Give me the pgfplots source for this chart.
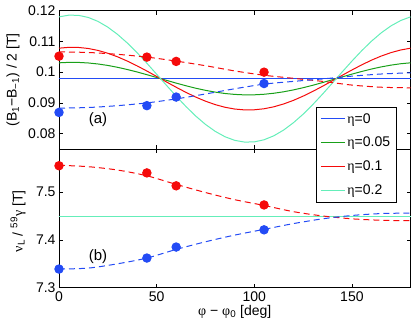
\documentclass[border=0pt]{standalone}
\usepackage{fontspec}
\setmainfont{Liberation Sans}
\newfontfamily\grk{Liberation Serif}
\usepackage{pgfplots}
\pgfplotsset{compat=1.18}
\usepackage{pgfplotstable}

\definecolor{mblue}{RGB}{35,75,245}
\definecolor{mred}{RGB}{245,10,10}
\definecolor{mgreen}{RGB}{25,160,25}
\definecolor{mcyan}{RGB}{100,238,185}

% solid curves, top panel
\pgfplotstableread{
phi e0 e05 e1 e2
0 0.0979 0.10304 0.10780 0.11799
5 0.0979 0.10319 0.10808 0.11855
10 0.0979 0.10317 0.10804 0.11849
15 0.0979 0.10299 0.10771 0.11780
20 0.0979 0.10266 0.10707 0.11651
25 0.0979 0.10219 0.10615 0.11465
30 0.0979 0.10158 0.10499 0.11228
35 0.0979 0.10086 0.10360 0.10948
40 0.0979 0.10006 0.10205 0.10632
45 0.0979 0.09918 0.10037 0.10291
50 0.0979 0.09827 0.09861 0.09934
55 0.0979 0.09735 0.09683 0.09574
60 0.0979 0.09644 0.09509 0.09220
65 0.0979 0.09558 0.09343 0.08883
70 0.0979 0.09478 0.09190 0.08573
75 0.0979 0.09409 0.09056 0.08301
80 0.0979 0.09351 0.08944 0.08074
85 0.0979 0.09306 0.08858 0.07899
90 0.0979 0.09276 0.08800 0.07781
95 0.0979 0.09261 0.08772 0.07725
100 0.0979 0.09263 0.08776 0.07731
105 0.0979 0.09281 0.08809 0.07800
110 0.0979 0.09314 0.08873 0.07929
115 0.0979 0.09361 0.08965 0.08115
120 0.0979 0.09422 0.09081 0.08352
125 0.0979 0.09494 0.09220 0.08632
130 0.0979 0.09574 0.09375 0.08948
135 0.0979 0.09662 0.09543 0.09289
140 0.0979 0.09753 0.09719 0.09646
145 0.0979 0.09845 0.09897 0.10006
150 0.0979 0.09936 0.10071 0.10360
155 0.0979 0.10022 0.10237 0.10697
160 0.0979 0.10102 0.10390 0.11007
165 0.0979 0.10171 0.10524 0.11279
170 0.0979 0.10229 0.10636 0.11506
175 0.0979 0.10274 0.10722 0.11681
180 0.0979 0.10304 0.10780 0.11799
}\solidtop

% dashed fits, top panel
\pgfplotstableread{
phi red blue
0 0.1066 0.0883
15 0.1064 0.0885
30 0.1058 0.0891
45 0.1049 0.0900
60 0.1036 0.0913
75 0.1021 0.0929
90 0.1004 0.0946
105 0.0990 0.0961
120 0.0980 0.0970
135 0.0970 0.0978
150 0.0958 0.0987
165 0.0951 0.0994
180 0.0949 0.0998
}\dashtop

% measured points, top panel
\pgfplotstableread{
phi red blue
0 0.1052 0.0869
45 0.1049 0.0891
60 0.1035 0.0919
105 0.1000 0.0963
}\pointstop

% dashed fits, bottom panel
\pgfplotstableread{
phi red blue
0 7.556 7.339
15 7.553 7.341
30 7.546 7.350
45 7.534 7.362
60 7.516 7.380
75 7.499 7.396
90 7.484 7.410
105 7.472 7.422
120 7.459 7.434
135 7.450 7.444
150 7.444 7.451
165 7.441 7.455
180 7.440 7.456
}\dashbot

% measured points, bottom panel
\pgfplotstableread{
phi red blue
0 7.555 7.339
45 7.540 7.362
60 7.513 7.385
105 7.473 7.421
}\pointsbot

% horizontal lines, bottom panel
\pgfplotstableread{
phi v
0 7.448
180 7.448
}\flatbot

\pgfplotsset{
  myaxis/.style={
    scale only axis, width=351.5pt,
    xmin=0, xmax=180, xtick={0,50,100,150},
    tick align=inside, major tick length=4pt,
    axis line style={line width=0.6pt, black},
    every tick/.style={black, line width=0.5pt},
    ticklabel style={font=\fontsize{14}{16}\selectfont},
    /pgf/number format/assume math mode=true,
    scaled y ticks=false,
    clip=false,
    every axis plot/.append style={line width=1pt},
    dashfit/.style={dash pattern=on 6pt off 4pt, smooth},
  }
}

\begin{document}
\begin{tikzpicture}
% bottom panel
\begin{axis}[myaxis,
  at={(0pt,0pt)}, anchor=south west,
  height=138.7pt,
  ymin=7.3, ymax=7.59, ytick={7.3,7.4,7.5},
  yticklabel style={/pgf/number format/fixed, /pgf/number format/precision=1},
  xlabel={{\grk φ} − {\grk φ}\textsubscript{0} [deg]},
  ylabel={{\grk ν}\textsubscript{L} / \textsuperscript{59}{\grk γ} [T]},
  every axis x label/.style={at={(axis description cs:0.5,-0.176)}, anchor=center, font=\fontsize{14}{16}\selectfont},
  every axis y label/.style={at={(axis description cs:-0.1166,0.478)}, rotate=90, anchor=center, font=\fontsize{14}{16}\selectfont},
]
\addplot[mblue, no markers] table[x=phi,y=v] {\flatbot};
\addplot[mgreen, no markers] table[x=phi,y=v] {\flatbot};
\addplot[mred, no markers] table[x=phi,y=v] {\flatbot};
\addplot[mcyan, no markers] table[x=phi,y=v] {\flatbot};
\addplot[mred, dashfit, no markers] table[x=phi,y=red] {\dashbot};
\addplot[mblue, dashfit, no markers] table[x=phi,y=blue] {\dashbot};
\addplot[only marks, mark=*, mark size=4.2pt, mark options={fill=mred, draw=mred}] table[x=phi,y=red] {\pointsbot};
\addplot[only marks, mark=*, mark size=4.2pt, mark options={fill=mblue, draw=mblue}] table[x=phi,y=blue] {\pointsbot};
\node[font=\fontsize{15}{17}\selectfont] at (axis cs:20,7.366) {(b)};
\coordinate (BR) at (rel axis cs:1,0);
\end{axis}
% top panel
\begin{axis}[myaxis,
  at={(0pt,138.7pt)}, anchor=south west,
  height=138.3pt,
  ymin=0.075, ymax=0.12, ytick={0.08,0.09,0.1,0.11,0.12},
  yticklabel style={/pgf/number format/fixed, /pgf/number format/precision=2},
  xticklabels={},
  ylabel={(B\textsubscript{1}−B\textsubscript{−1}) / 2 [T]},
  every axis y label/.style={at={(axis description cs:-0.1309,0.5)}, rotate=90, anchor=center, font=\fontsize{14}{16}\selectfont},
  legend style={at={(rel axis cs:0.96,0.304)}, anchor=north east, draw=black, fill=white,
    font=\fontsize{14}{16}\selectfont, row sep=8.5pt, inner sep=4pt, line width=0.6pt},
  legend cell align=left,
  legend image code/.code={\draw[#1, line width=1pt] (0pt,0pt) -- (24pt,0pt);},
]
\addplot[mblue, no markers] table[x=phi,y=e0] {\solidtop};
\addlegendentry{{\grk η}=0}
\addplot[mgreen, no markers] table[x=phi,y=e05] {\solidtop};
\addlegendentry{{\grk η}=0.05}
\addplot[mred, no markers] table[x=phi,y=e1] {\solidtop};
\addlegendentry{{\grk η}=0.1}
\addplot[mcyan, no markers] table[x=phi,y=e2] {\solidtop};
\addlegendentry{{\grk η}=0.2}
\addplot[mred, dashfit, no markers, forget plot] table[x=phi,y=red] {\dashtop};
\addplot[mblue, dashfit, no markers, forget plot] table[x=phi,y=blue] {\dashtop};
\addplot[only marks, mark=*, mark size=4.2pt, mark options={fill=mred, draw=mred}, forget plot] table[x=phi,y=red] {\pointstop};
\addplot[only marks, mark=*, mark size=4.2pt, mark options={fill=mblue, draw=mblue}, forget plot] table[x=phi,y=blue] {\pointstop};
\node[font=\fontsize{15}{17}\selectfont] at (axis cs:20,0.0845) {(a)};
\coordinate (TL) at (rel axis cs:0,1);
\end{axis}
\pgfresetboundingbox
\path ([shift={(-59pt,10.7pt)}]TL) rectangle ([shift={(4.5pt,-38.3pt)}]BR);
\end{tikzpicture}
\end{document}
